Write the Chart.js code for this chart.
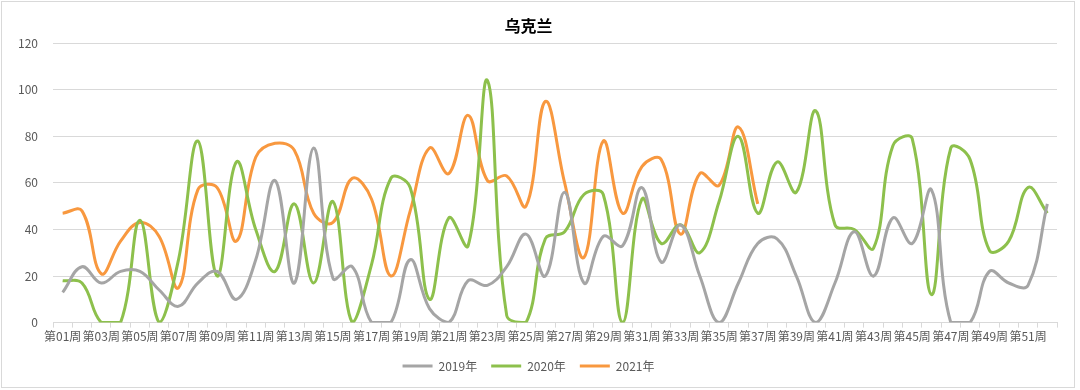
<!DOCTYPE html>
<html>
<head>
<meta charset="utf-8">
<script src="https://cdn.jsdelivr.net/npm/chart.js@4"></script>
<style>
  html, body { margin: 0; padding: 0; background: #fff; }
  #wrap { width: 1080px; height: 390px; }
</style>
</head>
<body>
<div id="wrap"><canvas id="myChart" width="1080" height="390"></canvas></div>
<script>
// weeks 第01周 .. 第52周
const weeks = [];
for (let i = 1; i <= 52; i++) weeks.push('第' + String(i).padStart(2, '0') + '周');

const yTicks = [0, 20, 40, 60, 80, 100, 120];

const data2019 = [13, 24, 17, 22, 22, 14, 7, 17, 22, 10, 27, 61, 17, 75, 19, 24, 0, 0, 27, 6,
  0, 18, 16, 24, 38, 20, 56, 17, 37, 33, 58, 26, 42, 20, 0, 17, 34, 36, 20, 0,
  17, 39, 20, 45, 34, 57, 0, 0, 22, 17, 16, 51];

const data2020 = [18, 17, 0, 0, 44, 0, 27, 78, 20, 69, 40, 22, 51, 17, 52, 0, 25, 62, 58, 10,
  45, 33, 104, 3, 0, 36, 39, 55, 55, 0, 53, 34, 42, 30, 52, 80, 47, 69, 56, 91,
  42, 40, 32, 76, 79, 12, 75, 70, 31, 35, 58, 47];

const data2021 = [47, 48, 21, 35, 43, 37, 15, 57, 58, 35, 71, 77, 74, 47, 43, 62, 53, 20, 48, 75,
  64, 89, 61, 63, 50, 95, 60, 28, 78, 47, 67, 70, 38, 64, 59, 84, 51];

const font = '"Noto Sans CJK SC", "Noto Sans", sans-serif';

// light frame round the whole chart
const framePlugin = {
  id: 'frame',
  beforeDraw(chart) {
    const c = chart.ctx;
    c.save();
    c.fillStyle = '#fff';
    c.fillRect(0, 0, chart.width, chart.height);
    c.strokeStyle = '#d9d9d9';
    c.lineWidth = 1;
    c.strokeRect(1.5, 1.5, 1073, 386);
    c.restore();
  }
};

const line = (label, values, color) => ({
  label: label,
  data: values,
  borderColor: color,
  backgroundColor: color,
  borderWidth: 3,
  pointRadius: 0,
  tension: 0.4,
  fill: false,
  clip: 0,
});

var ctx = document.getElementById('myChart').getContext('2d');
let myChart = new Chart(ctx, {
  type: 'line',
  data: {
    labels: weeks,
    datasets: [
      line('2019年', data2019, '#a5a5a5'),
      line('2020年', data2020, '#8dc04c'),
      line('2021年', data2021, '#f8983f'),
    ],
  },
  plugins: [framePlugin],
  options: {
    responsive: false,
    animation: false,
    layout: { padding: { left: 0, right: 23, top: 8, bottom: 8 } },
    plugins: {
      title: {
        display: true,
        text: '乌克兰',
        color: '#000',
        font: { family: font, size: 16, weight: 'bold' },
        padding: { top: 8, bottom: 8 },
      },
      legend: {
        position: 'bottom',
        labels: {
          usePointStyle: true,
          pointStyle: 'line',
          pointStyleWidth: 30,
          color: '#595959',
          font: { family: font, size: 12 },
          padding: 14,
        },
      },
      tooltip: { enabled: false },
    },
    scales: {
      x: {
        type: 'category',
        offset: true,
        grid: {
          offset: true,
          drawOnChartArea: false,
          color: '#d9d9d9',
          tickLength: 5,
        },
        border: { color: '#d9d9d9' },
        ticks: {
          autoSkip: false,
          maxRotation: 0,
          color: '#595959',
          font: { family: font, size: 12 },
          padding: 2,
          callback: function (val, i) { return i % 2 === 0 ? this.getLabelForValue(val) : ''; },
        },
      },
      y: {
        min: 0,
        max: 120,
        afterBuildTicks: (scale) => { scale.ticks = yTicks.map(v => ({ value: v })); },
        afterFit: (scale) => { scale.width = 53; },
        grid: { color: '#d9d9d9', drawTicks: false },
        border: { display: false },
        ticks: {
          color: '#595959',
          font: { family: font, size: 12 },
          padding: 15,
        },
      },
    },
  },
});
</script>
</body>
</html>
